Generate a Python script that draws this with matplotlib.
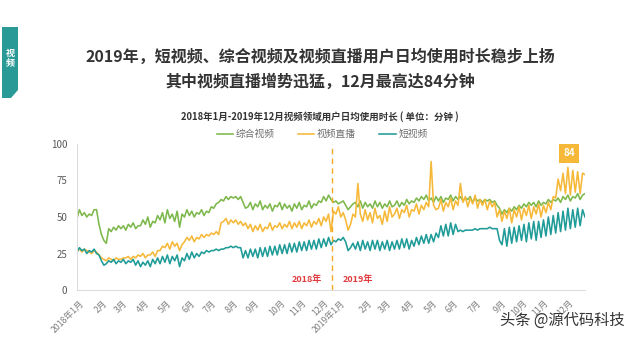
import numpy as np
import matplotlib
matplotlib.use("Agg")
import matplotlib.pyplot as plt
from matplotlib.patches import Polygon

plt.rcParams['font.family'] = ['Noto Sans CJK SC', 'DejaVu Sans']

# Daily usage minutes, sampled twice a week (every 3.5 days), Jan 2018 - Dec 2019
series_names = ['综合视频', '视频直播', '短视频']

zonghe = [
    49, 55, 51, 53, 50, 52, 51, 55, 55, 45,          # 2018-01
    38, 34, 32, 42, 40, 43, 41, 44,                  # 02
    42, 44, 41, 45, 43, 46, 42, 44,                  # 03
    44, 48, 45, 50, 43, 47, 46, 51,                  # 04
    48, 53, 46, 55, 49, 52, 47, 54, 43, 52,          # 05
    50, 55, 51, 54, 50, 53, 52, 55,                  # 06
    51, 54, 53, 57, 56, 59, 60, 62,                  # 07
    61, 64, 62, 64, 63, 64, 62, 64, 60, 56,          # 08
    57, 60, 55, 59, 57, 61, 55, 58,                  # 09
    56, 59, 54, 58, 57, 60, 55, 59, 56, 58,          # 10
    54, 59, 56, 60, 55, 58, 57, 61,                  # 11
    56, 59, 58, 61, 60, 64, 61, 65, 62, 60,          # 12
    61, 59, 60, 61, 58, 55, 57, 59,                  # 2019-01
    60, 57, 61, 56, 60, 57, 59, 56,                  # 02
    61, 57, 60, 56, 59, 57, 61, 57,                  # 03
    58, 61, 57, 60, 58, 62, 59, 61,                  # 04
    60, 63, 61, 64, 62, 65, 61, 63, 60, 64,          # 05
    61, 64, 60, 63, 62, 65, 61, 64,                  # 06
    62, 64, 61, 63, 62, 64, 60, 63, 61, 62,          # 07
    60, 62, 61, 62, 60, 61, 58, 56,                  # 08
    52, 55, 53, 56, 54, 57, 55, 58,                  # 09
    56, 59, 57, 60, 58, 60, 57, 61, 58, 60,          # 10
    59, 62, 60, 62, 61, 63, 60, 64,                  # 11
    62, 65, 61, 64, 63, 66, 62, 65, 66,              # 12
]

zhibo = [
    27, 28, 26, 28, 27, 26, 25, 27, 26, 24,          # 2018-01
    22, 21, 20, 22, 21, 20, 22, 21,                  # 02
    21, 22, 22, 23, 21, 23, 22, 24,                  # 03
    23, 25, 22, 24, 24, 26, 23, 27,                  # 04
    27, 30, 29, 32, 28, 33, 30, 32, 27, 31,          # 05
    33, 36, 34, 37, 33, 36, 35, 38,                  # 06
    36, 38, 37, 39, 38, 40, 38, 46,                  # 07
    47, 49, 45, 48, 46, 48, 45, 47, 44, 46,          # 08
    42, 45, 40, 44, 41, 45, 40, 43,                  # 09
    42, 46, 41, 44, 43, 46, 42, 45, 43, 47,          # 10
    42, 46, 43, 47, 42, 46, 44, 48,                  # 11
    43, 47, 45, 49, 44, 50, 47, 52, 40, 54,          # 12
    52, 57, 50, 53, 48, 41, 45, 52,                  # 2019-01
    50, 73, 52, 47, 55, 48, 53, 46,                  # 02
    56, 49, 51, 45, 54, 47, 57, 50,                  # 03
    52, 56, 49, 55, 53, 58, 50, 55,                  # 04
    54, 59, 52, 58, 55, 60, 57, 88, 58, 55,          # 05
    56, 62, 54, 60, 57, 63, 55, 61,                  # 06
    58, 73, 60, 64, 57, 63, 59, 65, 56, 62,          # 07
    58, 62, 55, 61, 57, 60, 50, 55,                  # 08
    47, 54, 49, 56, 46, 55, 50, 57,                  # 09
    48, 56, 51, 58, 49, 57, 52, 59, 50, 58,          # 10
    53, 60, 55, 64, 63, 76, 68, 80,                  # 11
    66, 84, 65, 82, 67, 81, 66, 80, 79,              # 12
]

duan = [
    26, 29, 27, 28, 25, 27, 26, 28, 25, 24,          # 2018-01
    20, 17, 18, 20, 19, 21, 18, 20,                  # 02
    19, 21, 18, 20, 19, 21, 17, 20,                  # 03
    16, 19, 17, 20, 16, 21, 18, 22,                  # 04
    18, 23, 19, 24, 18, 23, 20, 24, 16, 22,          # 05
    20, 25, 21, 26, 22, 25, 23, 26,                  # 06
    25, 27, 26, 27, 27, 28, 27, 28,                  # 07
    28, 29, 29, 30, 29, 30, 29, 29, 22, 27,          # 08
    22, 28, 23, 28, 22, 29, 23, 29,                  # 09
    23, 30, 24, 30, 24, 31, 25, 31, 25, 32,          # 10
    26, 32, 26, 33, 27, 33, 27, 34,                  # 11
    28, 34, 28, 35, 29, 35, 30, 36, 31, 34,          # 12
    33, 35, 34, 36, 33, 27, 29, 32,                  # 2019-01
    28, 33, 27, 34, 28, 33, 27, 34,                  # 02
    28, 34, 27, 33, 28, 34, 27, 33,                  # 03
    28, 34, 28, 35, 29, 35, 28, 34,                  # 04
    30, 36, 31, 37, 32, 38, 32, 38, 33, 39,          # 05
    36, 44, 37, 45, 37, 46, 38, 45,                  # 06
    40, 41, 40, 41, 41, 41, 41, 42, 41, 42,          # 07
    42, 42, 42, 43, 42, 42, 42, 34,                  # 08
    31, 42, 30, 43, 32, 43, 33, 44,                  # 09
    34, 45, 33, 46, 35, 47, 34, 47, 36, 48,          # 10
    37, 50, 38, 51, 39, 53, 40, 54,                  # 11
    41, 56, 42, 55, 43, 56, 44, 55, 50,              # 12
]

month_labels = ['2018年1月', '2月', '3月', '4月', '5月', '6月', '7月', '8月', '9月',
                '10月', '11月', '12月', '2019年1月', '2月', '3月', '4月', '5月',
                '6月', '7月', '9月', '10月', '11月', '12月']
y_ticks = [0, 25, 50, 75, 100]

# label anchor positions along the day axis
label_days = [4, 37, 66, 97, 129, 162, 193, 224, 255, 291, 322, 353,
              378, 416, 444, 477, 510, 539, 573, 609, 639, 668, 704]

colors = ['#7db84c', '#f6b838', '#1f9b98']
step = 3.5
year_split = 365
dec_2019_start = 699  # day index where December 2019 begins

fig = plt.figure(figsize=(6.4, 3.38), dpi=100)
W, H = 640, 338


def fx(px):
    return px / W


def fy(py):
    return 1 - py / H


ax = fig.add_axes([fx(77), fy(290), 508 / W, 146 / H])

handles = []
for name, vals, c in zip(series_names, [zonghe, zhibo, duan], colors):
    vals = np.asarray(vals, dtype=float)
    x = np.arange(len(vals)) * step
    h, = ax.plot(x, vals, color=c, lw=1.15, label=name, solid_joinstyle='round')
    handles.append(h)

ax.set_xlim(0, (len(zonghe) - 1) * step)
ax.set_ylim(0, 100)

for s in ['top', 'right']:
    ax.spines[s].set_visible(False)
for s in ['left', 'bottom']:
    ax.spines[s].set_color('#dcdcdc')
    ax.spines[s].set_linewidth(0.8)

ax.set_yticks(y_ticks)
ax.set_yticklabels([str(v) for v in y_ticks])
ax.tick_params(axis='y', length=0, pad=7, labelsize=7, labelcolor='#595959')

ax.set_xticks(label_days)
ax.set_xticklabels(month_labels, rotation=45, ha='right', va='top',
                   rotation_mode='anchor')
ax.tick_params(axis='x', length=0, pad=6, labelsize=6.3, labelcolor='#7f7f7f')

# year divider
ax.axvline(year_split, color='#f3a928', lw=1.0, ls=(0, (4, 3)))
ax.annotate('2018年', xy=(year_split, 7.5), xytext=(-7, 0), textcoords='offset points',
            ha='right', va='center', color='#e03a3e', fontsize=6.5, fontweight='bold')
ax.annotate('2019年', xy=(year_split, 7.5), xytext=(8, 0), textcoords='offset points',
            ha='left', va='center', color='#e03a3e', fontsize=6.5, fontweight='bold')

# December peak label for live streaming
zb = np.asarray(zhibo, dtype=float)
xz = np.arange(len(zb)) * step
dec_idx = np.where(xz >= dec_2019_start)[0]
imax = int(dec_idx[np.argmax(zb[dec_idx])])
ax.annotate(f'{zb[imax]:g}', xy=(xz[imax], zb[imax]), xytext=(1, 10),
            textcoords='offset points', ha='center', va='center', color='white',
            fontsize=7, fontweight='bold',
            bbox=dict(boxstyle='square,pad=0.45', fc='#f6b838', ec='none'))

fig.legend(handles=handles, loc='center', bbox_to_anchor=(fx(322), fy(134)),
           ncol=3, frameon=False, fontsize=7, handlelength=1.7, handletextpad=0.25,
           columnspacing=2.4, labelcolor='#6d6d6d')

# headline
fig.text(0.5, fy(57), '2019年，短视频、综合视频及视频直播用户日均使用时长稳步上扬',
         ha='center', va='center', fontsize=11.5, fontweight='bold', color='#333333')
fig.text(0.5, fy(82), '其中视频直播增势迅猛，12月最高达84分钟',
         ha='center', va='center', fontsize=11.5, fontweight='bold', color='#333333')
fig.text(fx(320), fy(117), '2018年1月-2019年12月视频领域用户日均使用时长 ( 单位：分钟 )',
         ha='center', va='center', fontsize=6.8, fontweight='bold', color='#333333')

# section tab
tab = Polygon([(fx(2), fy(27)), (fx(18), fy(27)), (fx(18), fy(90)),
               (fx(11), fy(98)), (fx(2), fy(98))],
              closed=True, transform=fig.transFigure, fc='#2a9a96', ec='none')
fig.patches.append(tab)
fig.text(fx(10), fy(58), '视\n频', ha='center', va='center', color='white',
         fontsize=6.5, fontweight='bold', linespacing=1.15)

fig.text(fx(562), fy(320), '头条 @源代码科技', ha='center', va='center',
         fontsize=11, color='#333333')

fig.savefig('out.png', dpi=100)
